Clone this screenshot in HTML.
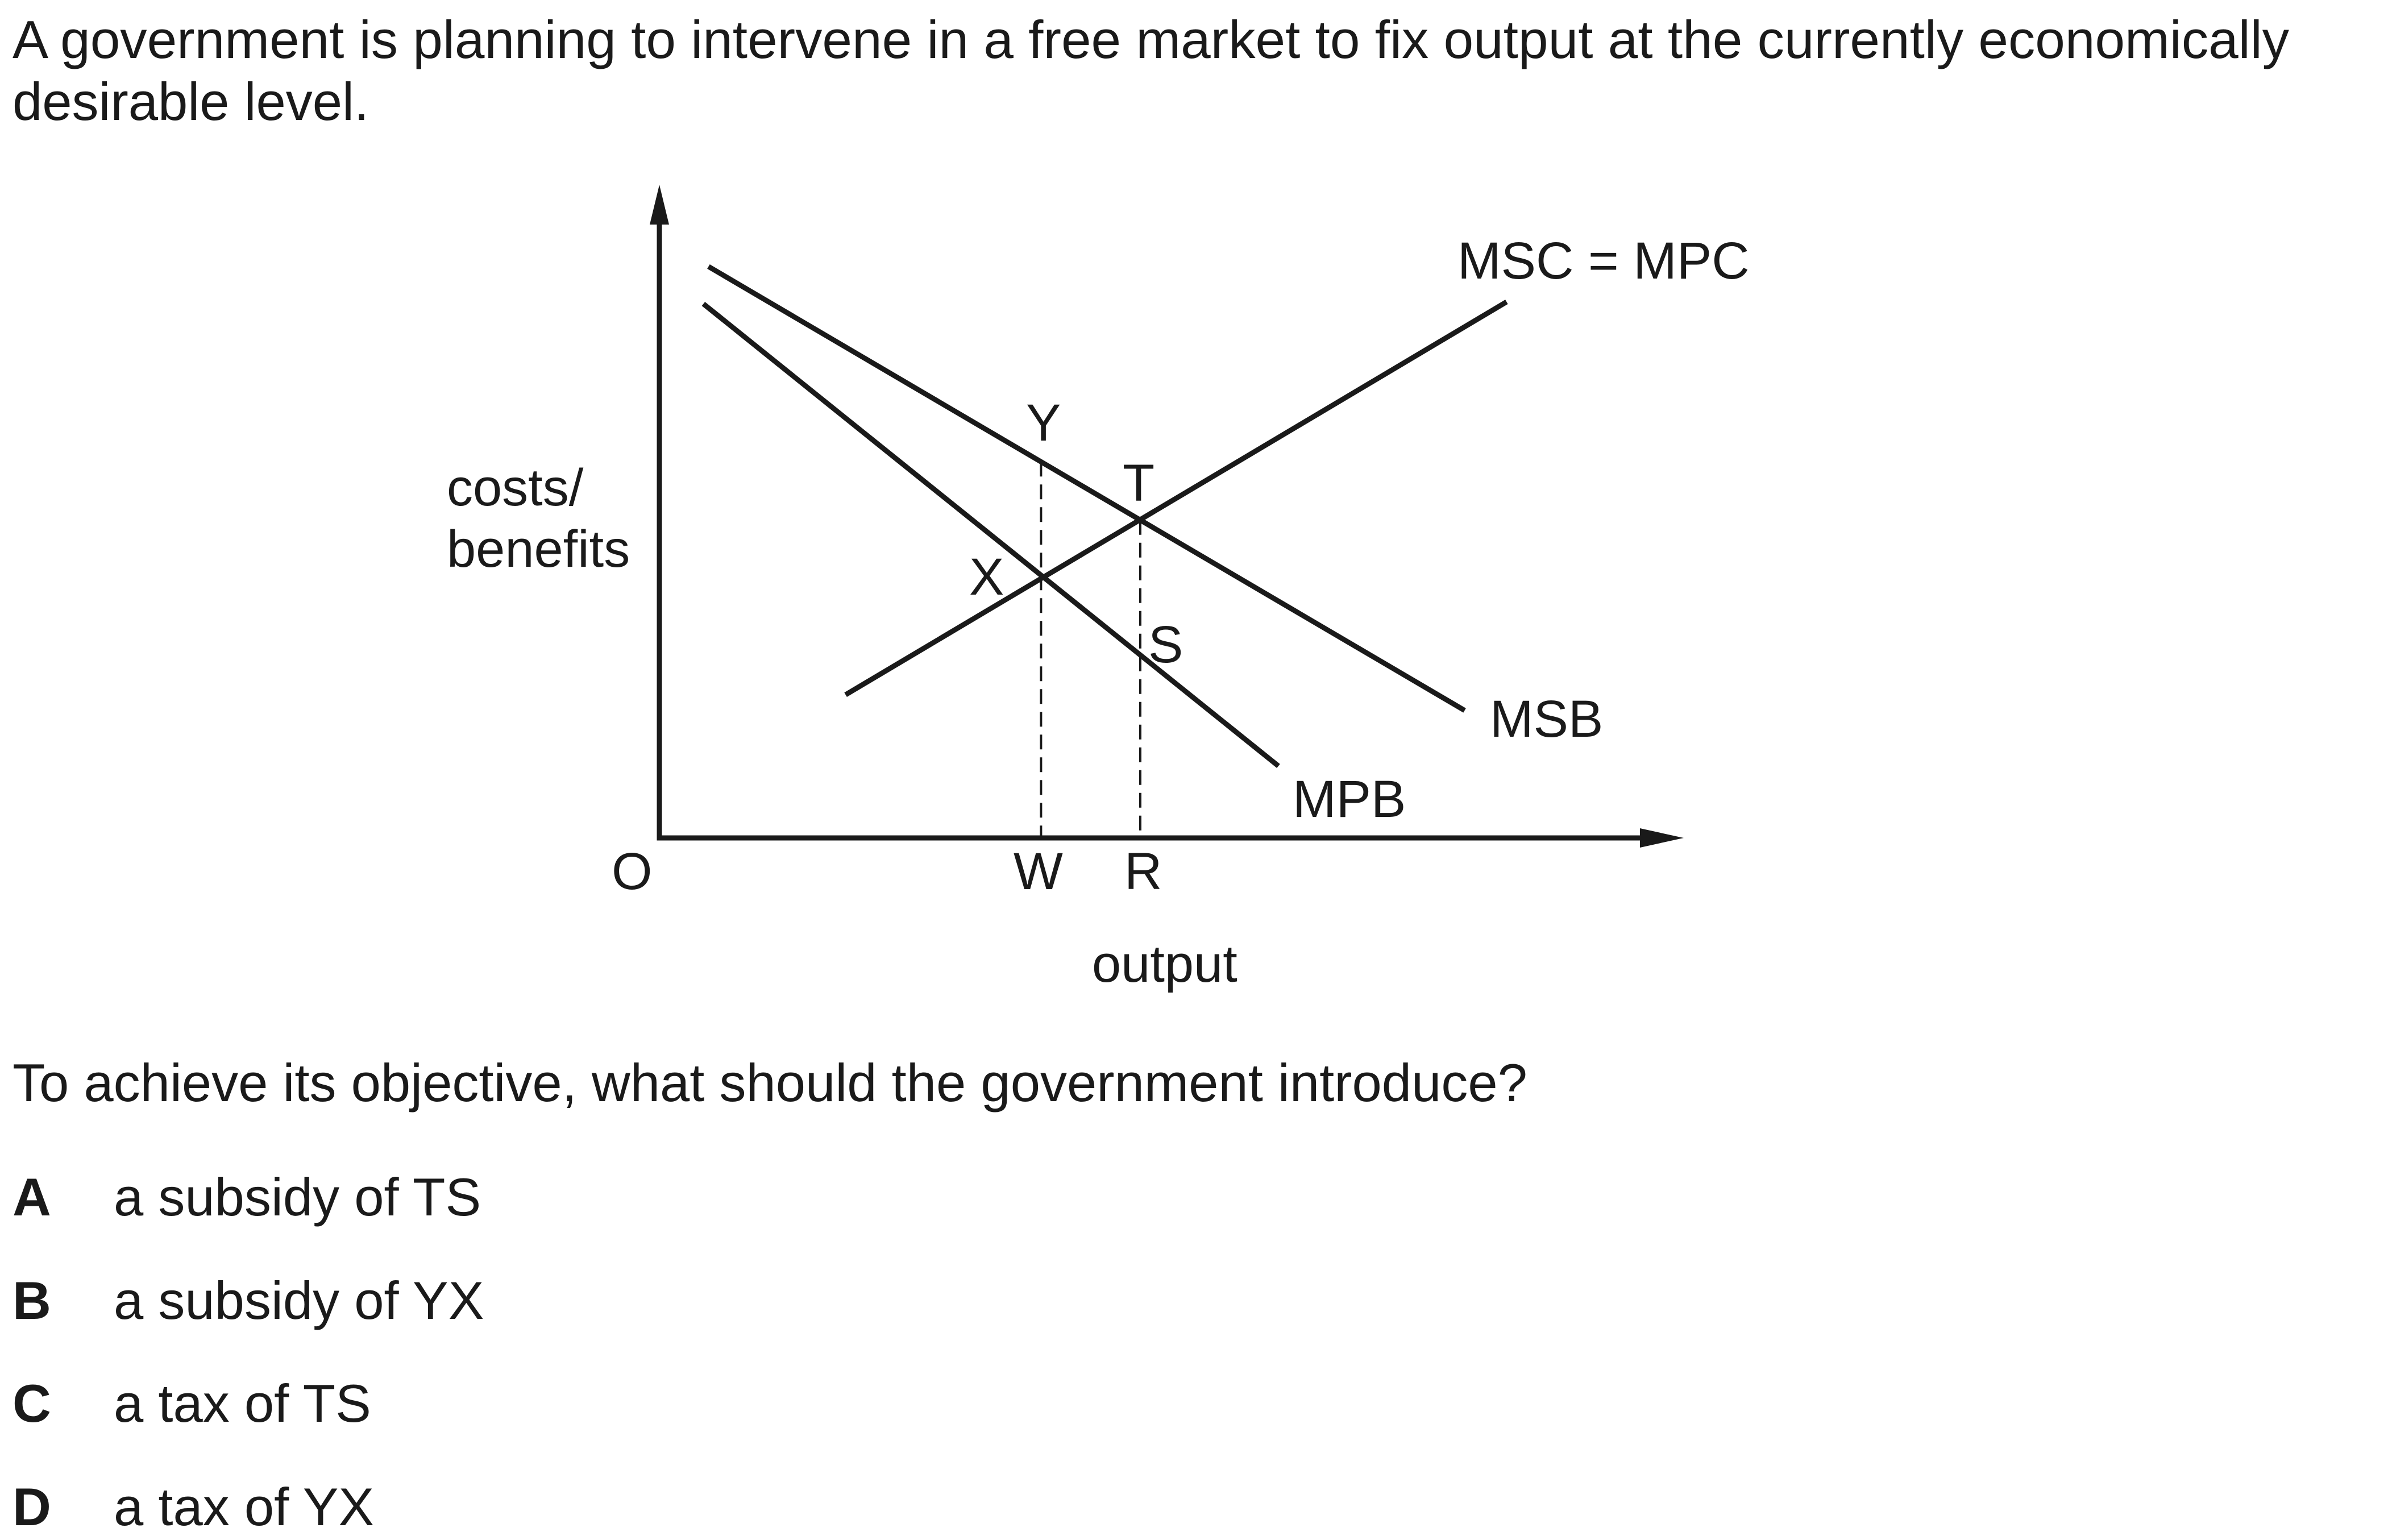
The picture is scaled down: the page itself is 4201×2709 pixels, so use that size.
<!DOCTYPE html>
<html><head><meta charset="utf-8"><style>
html,body{margin:0;padding:0;background:#fff;width:4201px;height:2709px;overflow:hidden}
svg{display:block}
text{font-family:"Liberation Sans",Arial,sans-serif;fill:#1a1a1a}
</style></head><body>
<svg id="c" width="4201" height="2709" viewBox="0 0 4201 2709">
<text x="22" y="102" font-size="94" textLength="4005" lengthAdjust="spacingAndGlyphs">A government is planning to intervene in a free market to fix output at the currently economically</text>
<text x="22" y="211" font-size="94">desirable level.</text>
<g id="chart"></g>
<text x="22" y="1937" font-size="94">To achieve its objective, what should the government introduce?</text>
<text x="22" y="2138" font-size="94" font-weight="bold">A</text>
<text x="200" y="2138" font-size="94">a subsidy of TS</text>
<text x="22" y="2320" font-size="94" font-weight="bold">B</text>
<text x="200" y="2320" font-size="94">a subsidy of YX</text>
<text x="22" y="2501" font-size="94" font-weight="bold">C</text>
<text x="200" y="2501" font-size="94">a tax of TS</text>
<text x="22" y="2683" font-size="94" font-weight="bold">D</text>
<text x="200" y="2683" font-size="94">a tax of YX</text>
</svg>
<script>
// data-space curves (0-100 units)
const msbLine = [[4.8, 87.4], [78.7, 19.5]];
const mpbLine = [[4.3, 81.7], [60.5, 11.0]];
const mscLine = [[18.2, 21.9], [82.8, 82.0]];
const outputLevels = [37.3, 47.0]; // W, R
const NS = 'http://www.w3.org/2000/svg';
const g = document.getElementById('chart');
const X0 = 1160, Y0 = 1474;
function xs(v){return X0 + v*18;}
function ys(v){return Y0 - v*11.5;}
function at(line, x){const [a,b]=line;return a[1]+(b[1]-a[1])*(x-a[0])/(b[0]-a[0]);}
function mk(tag, attrs){const e=document.createElementNS(NS,tag);for(const k in attrs)e.setAttribute(k,attrs[k]);g.appendChild(e);return e;}
function ln(line, name){
  const e = mk('line',{x1:xs(line[0][0]),y1:ys(line[0][1]),x2:xs(line[1][0]),y2:ys(line[1][1]),stroke:'#1a1a1a','stroke-width':9});
  
  
}
let a = mk('line',{x1:X0,y1:Y0,x2:X0,y2:380,stroke:'#1a1a1a','stroke-width':9});


a = mk('polygon',{points:`${X0},325 ${X0-17},395 ${X0+17},395`,fill:'#1a1a1a'});


a = mk('line',{x1:X0-4.5,y1:Y0,x2:2900,y2:Y0,stroke:'#1a1a1a','stroke-width':9});


a = mk('polygon',{points:`2962,${Y0} 2885,${Y0-17} 2885,${Y0+17}`,fill:'#1a1a1a'});


const topW = ys(at(msbLine, outputLevels[0]));
const topR = ys(at(msbLine, outputLevels[1]));
let d = mk('line',{x1:xs(outputLevels[0]),y1:topW,x2:xs(outputLevels[0]),y2:Y0,stroke:'#1a1a1a','stroke-width':4,'stroke-dasharray':'26 14'});


d = mk('line',{x1:xs(outputLevels[1]),y1:topR,x2:xs(outputLevels[1]),y2:Y0,stroke:'#1a1a1a','stroke-width':4,'stroke-dasharray':'26 14'});


ln(msbLine, 'msb-line');
ln(mpbLine, 'mpb-line');
ln(mscLine, 'msc-mpc-line');
const labels = [
 ['costs/',786,889,'y-axis-title-1'],['benefits',786,997,'y-axis-title-2'],
 ['MSC = MPC',2564,490,'msc-label'],['Y',1805,775,'point-y'],['T',1975,881,'point-t'],
 ['X',1705,1046,'point-x'],['S',2020,1165,'point-s'],['MSB',2621,1296,'msb-label'],
 ['MPB',2274,1437,'mpb-label'],['O',1076,1564,'origin-label'],['W',1783,1564,'w-label'],
 ['R',1978,1564,'r-label'],['output',1921,1727,'x-axis-title']];
for (const [t,x,y,n] of labels){
  const e = mk('text',{x:x,y:y,'font-size':92});
  e.textContent = t;
  
  
}
</script>
</body></html>
